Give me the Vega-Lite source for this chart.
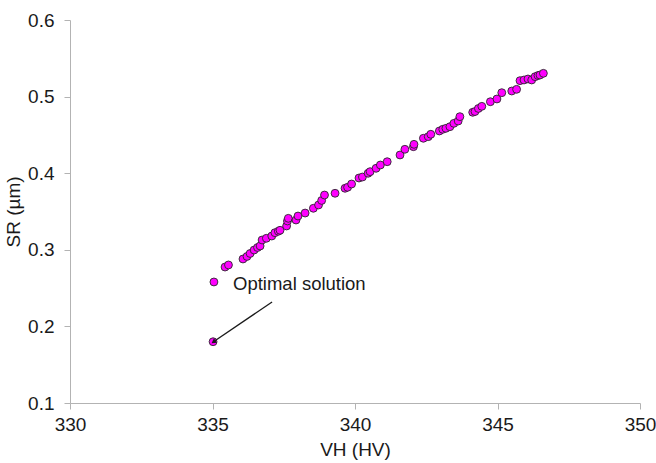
{
  "$schema": "https://vega.github.io/schema/vega-lite/v6.json",
  "width": 570,
  "height": 383,
  "autosize": {"type": "none"},
  "padding": {"left": 70, "top": 20, "right": 16, "bottom": 60},
  "background": "white",
  "config": {
    "view": {"stroke": null},
    "font": "Liberation Sans",
    "axis": {
      "grid": false,
      "domainColor": "#b3b3b3",
      "tickColor": "#b3b3b3",
      "tickSize": 6,
      "labelFlush": false,
      "labelOverlap": false,
      "labelFont": "Liberation Sans",
      "labelFontSize": 19,
      "labelColor": "#1a1a1a",
      "titleFont": "Liberation Sans",
      "titleFontSize": 19,
      "titleFontWeight": "normal",
      "titleColor": "#1a1a1a"
    }
  },
  "datasets": {
    "pareto": [
      {"VH": 335.44, "SR": 0.2775}, {"VH": 335.56, "SR": 0.2802},
      {"VH": 336.07, "SR": 0.288}, {"VH": 336.21, "SR": 0.2913},
      {"VH": 336.32, "SR": 0.2952}, {"VH": 336.46, "SR": 0.2997},
      {"VH": 336.58, "SR": 0.303}, {"VH": 336.67, "SR": 0.305},
      {"VH": 336.74, "SR": 0.3128}, {"VH": 336.89, "SR": 0.315},
      {"VH": 337.08, "SR": 0.318}, {"VH": 337.19, "SR": 0.3223},
      {"VH": 337.31, "SR": 0.3242}, {"VH": 337.37, "SR": 0.3255},
      {"VH": 337.6, "SR": 0.3311}, {"VH": 337.63, "SR": 0.3376},
      {"VH": 337.66, "SR": 0.3411}, {"VH": 337.93, "SR": 0.3389},
      {"VH": 338.0, "SR": 0.3441}, {"VH": 338.25, "SR": 0.348},
      {"VH": 338.54, "SR": 0.3542}, {"VH": 338.72, "SR": 0.3585},
      {"VH": 338.83, "SR": 0.3644}, {"VH": 338.93, "SR": 0.3715},
      {"VH": 339.3, "SR": 0.3738}, {"VH": 339.65, "SR": 0.3803},
      {"VH": 339.74, "SR": 0.3816}, {"VH": 339.88, "SR": 0.3859},
      {"VH": 340.14, "SR": 0.3937}, {"VH": 340.26, "SR": 0.395},
      {"VH": 340.46, "SR": 0.3999}, {"VH": 340.53, "SR": 0.402},
      {"VH": 340.74, "SR": 0.4064}, {"VH": 340.89, "SR": 0.4107},
      {"VH": 341.13, "SR": 0.415}, {"VH": 341.58, "SR": 0.4238},
      {"VH": 341.75, "SR": 0.4312}, {"VH": 342.05, "SR": 0.4346},
      {"VH": 342.07, "SR": 0.4377}, {"VH": 342.4, "SR": 0.4456},
      {"VH": 342.57, "SR": 0.4477}, {"VH": 342.66, "SR": 0.4508},
      {"VH": 342.96, "SR": 0.4551}, {"VH": 343.08, "SR": 0.4573},
      {"VH": 343.19, "SR": 0.4586}, {"VH": 343.33, "SR": 0.4607},
      {"VH": 343.47, "SR": 0.4651}, {"VH": 343.62, "SR": 0.4681},
      {"VH": 343.68, "SR": 0.4738}, {"VH": 344.13, "SR": 0.4795},
      {"VH": 344.21, "SR": 0.4805}, {"VH": 344.33, "SR": 0.4845},
      {"VH": 344.45, "SR": 0.4873}, {"VH": 344.75, "SR": 0.4933},
      {"VH": 344.98, "SR": 0.4969}, {"VH": 345.15, "SR": 0.5051},
      {"VH": 345.5, "SR": 0.5073}, {"VH": 345.67, "SR": 0.5095},
      {"VH": 345.79, "SR": 0.5208}, {"VH": 345.93, "SR": 0.5217},
      {"VH": 346.07, "SR": 0.523}, {"VH": 346.2, "SR": 0.5217},
      {"VH": 346.32, "SR": 0.526}, {"VH": 346.42, "SR": 0.5275},
      {"VH": 346.49, "SR": 0.5282}, {"VH": 346.61, "SR": 0.5304},
      {"VH": 335.05, "SR": 0.258}, {"VH": 335.02, "SR": 0.18}
    ],
    "callout": [
      {"VH": 337.09, "SR": 0.2319, "VH2": 335.06, "SR2": 0.1805, "label": "Optimal solution", "labelVH": 335.72, "labelSR": 0.2553}
    ]
  },
  "layer": [
    {
      "data": {"name": "pareto"},
      "mark": {"type": "point", "filled": true, "fill": "#ff00ff", "stroke": "#2a2a2a", "strokeWidth": 0.9, "size": 62, "opacity": 1},
      "encoding": {
        "x": {
          "field": "VH", "type": "quantitative", "title": "VH (HV)",
          "scale": {"domain": [330, 350], "nice": false, "zero": false},
          "axis": {"values": [330, 335, 340, 345, 350], "labelPadding": 6, "titlePadding": 6}
        },
        "y": {
          "field": "SR", "type": "quantitative", "title": "SR (µm)",
          "scale": {"domain": [0.1, 0.6], "nice": false, "zero": false},
          "axis": {"values": [0.1, 0.2, 0.3, 0.4, 0.5, 0.6], "format": ".1f", "labelPadding": 10, "titlePadding": 4}
        }
      }
    },
    {
      "data": {"name": "callout"},
      "mark": {"type": "rule", "color": "#1a1a1a", "strokeWidth": 1.3},
      "encoding": {
        "x": {"field": "VH", "type": "quantitative"},
        "y": {"field": "SR", "type": "quantitative"},
        "x2": {"field": "VH2"},
        "y2": {"field": "SR2"}
      }
    },
    {
      "data": {"name": "callout"},
      "mark": {"type": "point", "shape": "triangle", "filled": true, "color": "#1a1a1a", "size": 30, "angle": 235, "opacity": 1},
      "encoding": {
        "x": {"field": "VH2", "type": "quantitative"},
        "y": {"field": "SR2", "type": "quantitative"}
      }
    },
    {
      "data": {"name": "callout"},
      "mark": {"type": "text", "align": "left", "baseline": "middle", "font": "Liberation Sans", "fontSize": 18.5, "color": "#1a1a1a"},
      "encoding": {
        "x": {"field": "labelVH", "type": "quantitative"},
        "y": {"field": "labelSR", "type": "quantitative"},
        "text": {"field": "label"}
      }
    }
  ]
}
